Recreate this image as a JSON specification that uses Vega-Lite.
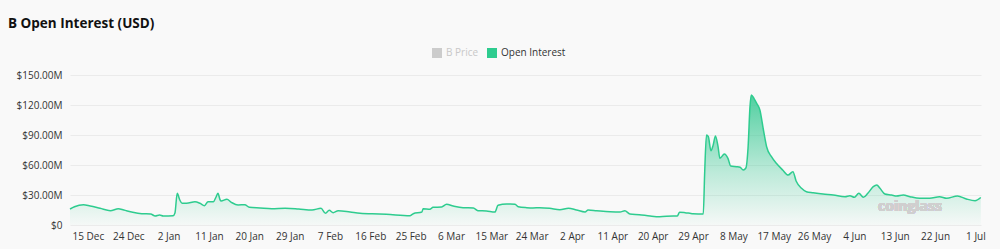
{
  "$schema": "https://vega.github.io/schema/vega-lite/v6.json",
  "width": 911,
  "height": 150,
  "autosize": "none",
  "padding": {"left": 70, "top": 75, "right": 19, "bottom": 24},
  "background": "#f9f9f9",
  "title": {
    "text": "B Open Interest (USD)",
    "anchor": "start",
    "frame": "group",
    "dx": -62,
    "dy": -14,
    "fontSize": 13.5,
    "fontWeight": "bold",
    "font": "Open Sans",
    "color": "#111111"
  },
  "config": {
    "view": {"stroke": null},
    "font": "Open Sans"
  },
  "data": {
    "values": [
      {"date": "2024-12-11T00:00", "oi": 16},
      {"date": "2024-12-12T00:00", "oi": 18.3},
      {"date": "2024-12-14T00:00", "oi": 20.3},
      {"date": "2024-12-15T12:00", "oi": 19},
      {"date": "2024-12-17T17:00", "oi": 16.7},
      {"date": "2024-12-20T00:00", "oi": 14.3},
      {"date": "2024-12-21T19:00", "oi": 16.3},
      {"date": "2024-12-23T00:00", "oi": 15},
      {"date": "2024-12-25T00:00", "oi": 12.7},
      {"date": "2024-12-27T00:00", "oi": 11.3},
      {"date": "2024-12-29T00:00", "oi": 11},
      {"date": "2024-12-30T00:00", "oi": 9},
      {"date": "2024-12-31T00:00", "oi": 10},
      {"date": "2024-12-31T19:00", "oi": 9},
      {"date": "2025-01-03T00:00", "oi": 9.3},
      {"date": "2025-01-03T10:00", "oi": 12},
      {"date": "2025-01-03T22:00", "oi": 31.7},
      {"date": "2025-01-04T12:00", "oi": 25},
      {"date": "2025-01-05T00:00", "oi": 21.7},
      {"date": "2025-01-06T00:00", "oi": 21.7},
      {"date": "2025-01-07T21:00", "oi": 23.3},
      {"date": "2025-01-09T00:00", "oi": 21.7},
      {"date": "2025-01-10T00:00", "oi": 19.3},
      {"date": "2025-01-10T19:00", "oi": 23.3},
      {"date": "2025-01-12T00:00", "oi": 23.3},
      {"date": "2025-01-12T14:00", "oi": 28},
      {"date": "2025-01-13T00:00", "oi": 31.7},
      {"date": "2025-01-13T12:00", "oi": 25},
      {"date": "2025-01-13T17:00", "oi": 24},
      {"date": "2025-01-15T00:00", "oi": 25.7},
      {"date": "2025-01-16T00:00", "oi": 22.7},
      {"date": "2025-01-17T12:00", "oi": 20},
      {"date": "2025-01-19T00:00", "oi": 20.3},
      {"date": "2025-01-20T00:00", "oi": 17.7},
      {"date": "2025-01-22T10:00", "oi": 17},
      {"date": "2025-01-25T00:00", "oi": 16.3},
      {"date": "2025-01-28T00:00", "oi": 16.7},
      {"date": "2025-01-31T00:00", "oi": 16},
      {"date": "2025-02-03T00:00", "oi": 15},
      {"date": "2025-02-05T00:00", "oi": 16.7},
      {"date": "2025-02-06T00:00", "oi": 11.7},
      {"date": "2025-02-06T20:00", "oi": 14.7},
      {"date": "2025-02-07T17:00", "oi": 12.3},
      {"date": "2025-02-08T20:00", "oi": 14.3},
      {"date": "2025-02-11T12:00", "oi": 13},
      {"date": "2025-02-13T17:00", "oi": 11.7},
      {"date": "2025-02-18T00:00", "oi": 11},
      {"date": "2025-02-19T14:00", "oi": 10.7},
      {"date": "2025-02-24T20:00", "oi": 9.3},
      {"date": "2025-02-25T14:00", "oi": 11.3},
      {"date": "2025-02-27T12:00", "oi": 13},
      {"date": "2025-02-27T19:00", "oi": 16.3},
      {"date": "2025-03-01T07:00", "oi": 15.7},
      {"date": "2025-03-02T00:00", "oi": 17.7},
      {"date": "2025-03-03T22:00", "oi": 18},
      {"date": "2025-03-05T00:00", "oi": 20.7},
      {"date": "2025-03-06T12:00", "oi": 19},
      {"date": "2025-03-08T17:00", "oi": 17.3},
      {"date": "2025-03-11T00:00", "oi": 17},
      {"date": "2025-03-12T00:00", "oi": 14.3},
      {"date": "2025-03-13T22:00", "oi": 14},
      {"date": "2025-03-15T19:00", "oi": 13},
      {"date": "2025-03-16T12:00", "oi": 19.7},
      {"date": "2025-03-18T10:00", "oi": 21},
      {"date": "2025-03-20T07:00", "oi": 20.7},
      {"date": "2025-03-21T00:00", "oi": 18.3},
      {"date": "2025-03-22T22:00", "oi": 17.3},
      {"date": "2025-03-24T07:00", "oi": 17},
      {"date": "2025-03-25T19:00", "oi": 17.3},
      {"date": "2025-03-28T00:00", "oi": 16.7},
      {"date": "2025-03-30T07:00", "oi": 15.3},
      {"date": "2025-04-01T05:00", "oi": 16.7},
      {"date": "2025-04-03T00:00", "oi": 15},
      {"date": "2025-04-04T22:00", "oi": 13},
      {"date": "2025-04-05T14:00", "oi": 15},
      {"date": "2025-04-07T12:00", "oi": 14.3},
      {"date": "2025-04-10T12:00", "oi": 13.3},
      {"date": "2025-04-12T17:00", "oi": 13},
      {"date": "2025-04-13T19:00", "oi": 14.3},
      {"date": "2025-04-14T22:00", "oi": 11},
      {"date": "2025-04-17T00:00", "oi": 10.3},
      {"date": "2025-04-19T10:00", "oi": 9},
      {"date": "2025-04-21T14:00", "oi": 8.3},
      {"date": "2025-04-24T14:00", "oi": 9},
      {"date": "2025-04-25T12:00", "oi": 9},
      {"date": "2025-04-26T00:00", "oi": 12.7},
      {"date": "2025-04-27T05:00", "oi": 12.3},
      {"date": "2025-04-28T07:00", "oi": 11.7},
      {"date": "2025-04-29T00:00", "oi": 11.3},
      {"date": "2025-05-01T07:00", "oi": 11},
      {"date": "2025-05-01T14:00", "oi": 50},
      {"date": "2025-05-02T00:00", "oi": 90},
      {"date": "2025-05-02T10:00", "oi": 88.3},
      {"date": "2025-05-03T00:00", "oi": 74.3},
      {"date": "2025-05-03T12:00", "oi": 80},
      {"date": "2025-05-04T00:00", "oi": 89},
      {"date": "2025-05-04T14:00", "oi": 78.3},
      {"date": "2025-05-05T00:00", "oi": 66.7},
      {"date": "2025-05-06T00:00", "oi": 71},
      {"date": "2025-05-06T19:00", "oi": 66.7},
      {"date": "2025-05-07T10:00", "oi": 59},
      {"date": "2025-05-08T17:00", "oi": 58.3},
      {"date": "2025-05-09T12:00", "oi": 57.7},
      {"date": "2025-05-10T05:00", "oi": 55},
      {"date": "2025-05-10T19:00", "oi": 57},
      {"date": "2025-05-11T07:00", "oi": 78.3},
      {"date": "2025-05-11T17:00", "oi": 118.3},
      {"date": "2025-05-12T00:00", "oi": 130},
      {"date": "2025-05-12T14:00", "oi": 126.7},
      {"date": "2025-05-13T05:00", "oi": 121.7},
      {"date": "2025-05-13T22:00", "oi": 115},
      {"date": "2025-05-14T17:00", "oi": 95},
      {"date": "2025-05-15T10:00", "oi": 78.3},
      {"date": "2025-05-16T12:00", "oi": 68.3},
      {"date": "2025-05-17T14:00", "oi": 61.7},
      {"date": "2025-05-19T00:00", "oi": 55},
      {"date": "2025-05-20T05:00", "oi": 50},
      {"date": "2025-05-21T07:00", "oi": 53.3},
      {"date": "2025-05-22T00:00", "oi": 44},
      {"date": "2025-05-23T05:00", "oi": 36.7},
      {"date": "2025-05-24T07:00", "oi": 33.3},
      {"date": "2025-05-25T19:00", "oi": 32.3},
      {"date": "2025-05-28T00:00", "oi": 31},
      {"date": "2025-05-30T07:00", "oi": 30},
      {"date": "2025-06-01T22:00", "oi": 28.3},
      {"date": "2025-06-03T00:00", "oi": 29.3},
      {"date": "2025-06-04T00:00", "oi": 27.7},
      {"date": "2025-06-05T00:00", "oi": 31.7},
      {"date": "2025-06-06T00:00", "oi": 27.7},
      {"date": "2025-06-07T00:00", "oi": 31.7},
      {"date": "2025-06-08T05:00", "oi": 38.3},
      {"date": "2025-06-09T00:00", "oi": 40},
      {"date": "2025-06-09T17:00", "oi": 36.7},
      {"date": "2025-06-10T19:00", "oi": 31},
      {"date": "2025-06-12T07:00", "oi": 30},
      {"date": "2025-06-13T10:00", "oi": 29},
      {"date": "2025-06-14T22:00", "oi": 30},
      {"date": "2025-06-16T10:00", "oi": 28.3},
      {"date": "2025-06-18T14:00", "oi": 26.7},
      {"date": "2025-06-20T19:00", "oi": 26.7},
      {"date": "2025-06-23T00:00", "oi": 28.3},
      {"date": "2025-06-24T14:00", "oi": 26.7},
      {"date": "2025-06-27T00:00", "oi": 29},
      {"date": "2025-06-29T00:00", "oi": 26},
      {"date": "2025-06-30T22:00", "oi": 24.3},
      {"date": "2025-07-02T05:00", "oi": 27.5}
    ]
  },
  "encoding": {
    "x": {
      "field": "date",
      "type": "temporal",
      "scale": {
        "domain": [
          {"year": 2024, "month": 12, "date": 11},
          {"year": 2025, "month": 7, "date": 2, "hours": 6}
        ]
      },
      "axis": {
        "title": null,
        "format": "%-d %b",
        "values": [
          {"year": 2024, "month": 12, "date": 15},
          {"year": 2024, "month": 12, "date": 24},
          {"year": 2025, "month": 1, "date": 2},
          {"year": 2025, "month": 1, "date": 11},
          {"year": 2025, "month": 1, "date": 20},
          {"year": 2025, "month": 1, "date": 29},
          {"year": 2025, "month": 2, "date": 7},
          {"year": 2025, "month": 2, "date": 16},
          {"year": 2025, "month": 2, "date": 25},
          {"year": 2025, "month": 3, "date": 6},
          {"year": 2025, "month": 3, "date": 15},
          {"year": 2025, "month": 3, "date": 24},
          {"year": 2025, "month": 4, "date": 2},
          {"year": 2025, "month": 4, "date": 11},
          {"year": 2025, "month": 4, "date": 20},
          {"year": 2025, "month": 4, "date": 29},
          {"year": 2025, "month": 5, "date": 8},
          {"year": 2025, "month": 5, "date": 17},
          {"year": 2025, "month": 5, "date": 26},
          {"year": 2025, "month": 6, "date": 4},
          {"year": 2025, "month": 6, "date": 13},
          {"year": 2025, "month": 6, "date": 22},
          {"year": 2025, "month": 7, "date": 1}
        ],
        "domain": false,
        "ticks": false,
        "grid": false,
        "labelFontSize": 10,
        "labelColor": "#333333",
        "labelPadding": 6,
        "labelOverlap": false,
        "labelFlush": false
      }
    },
    "y": {
      "field": "oi",
      "type": "quantitative",
      "scale": {"domain": [0, 150]},
      "axis": {
        "title": null,
        "values": [0, 30, 60, 90, 120, 150],
        "labelExpr": "datum.value == 0 ? '$0' : '$' + format(datum.value, '.2f') + 'M'",
        "domain": false,
        "ticks": false,
        "gridColor": "#ebebeb",
        "gridWidth": 1,
        "labelFontSize": 10,
        "labelColor": "#333333",
        "labelPadding": 8
      }
    }
  },
  "layer": [
    {
      "mark": {
        "type": "area",
        "interpolate": "monotone",
        "color": {
          "gradient": "linear",
          "x1": 0, "y1": 0, "x2": 0, "y2": 1,
          "stops": [
            {"offset": 0, "color": "rgba(52,200,145,0.85)"},
            {"offset": 0.6, "color": "rgba(52,200,145,0.3)"},
            {"offset": 1, "color": "rgba(52,200,145,0.02)"}
          ]
        }
      }
    },
    {
      "mark": {"type": "line", "interpolate": "monotone", "strokeWidth": 1.5},
      "encoding": {
        "color": {
          "datum": "Open Interest",
          "type": "nominal",
          "scale": {"domain": ["B Price", "Open Interest"], "range": ["#cccccc", "#2ecc8f"]},
          "legend": {
            "title": null,
            "orient": "none",
            "direction": "horizontal",
            "legendX": 362,
            "legendY": -27,
            "symbolType": "square",
            "symbolSize": 100,
            "symbolStrokeWidth": 0,
            "labelFontSize": 10,
            "columnPadding": 8,
            "labelOffset": 4,
            "encode": {
              "labels": {
                "update": {
                  "fill": {"signal": "datum.label == 'B Price' ? '#c8c8c8' : '#333333'"}
                }
              },
              "symbols": {
                "update": {
                  "fill": {"signal": "datum.label == 'B Price' ? '#cccccc' : '#2ecc8f'"},
                  "stroke": {"value": "transparent"}
                }
              }
            }
          }
        }
      }
    },
    {
      "mark": {
        "type": "text",
        "text": "coinglass",
        "fontSize": 14,
        "fontWeight": "bold",
        "color": "#cfcfcf",
        "align": "center",
        "baseline": "middle"
      },
      "encoding": {
        "x": {"datum": {"year": 2025, "month": 6, "date": 16, "hours": 10}},
        "y": {"datum": 18.3}
      }
    }
  ]
}
